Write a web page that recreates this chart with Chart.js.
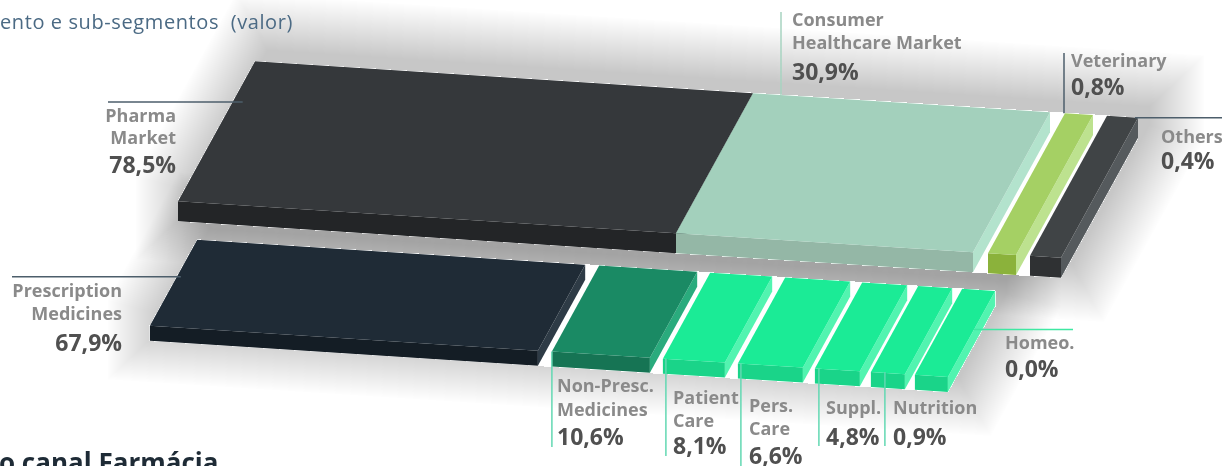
<!DOCTYPE html>
<html>
<head>
<meta charset="utf-8">
<script src="https://cdn.jsdelivr.net/npm/chart.js@4.4.0/dist/chart.umd.min.js"></script>
<style>
  html, body { margin: 0; padding: 0; background: #fff; overflow: hidden; }
  canvas { display: block; }
</style>
</head>
<body>
<canvas id="chart" width="1225" height="466"></canvas>
<script>
"use strict";

// Data
const rows = ["Mercado", "Sub-segmentos"];

const marketNames = [["Pharma", "Market"], ["Consumer", "Healthcare Market"], ["Veterinary"], ["Others"]];
const marketShare = [78.5, 30.9, 0.8, 0.4];
// drawn length of each slab along the top edge
const marketLength = [498, 297, 28, 31];

const segmentNames = [["Prescription", "Medicines"], ["Non-Presc.", "Medicines"], ["Patient", "Care"], ["Pers.", "Care"], ["Suppl."], ["Nutrition"], ["Homeo."]];
const segmentShare = [67.9, 10.6, 8.1, 6.6, 4.8, 0.9, 0.0];
const segmentLength = [388, 98, 62, 65, 45, 34, 33];

// Look
const SKEW_X = -0.55;   // left lean of the slab sides
const SKEW_Y = 0.064;   // downward slope of the long edges
const rowStart = [255, 294];
const rowDepth = [140, 86];
const rowThick = [20, 15];
const marketGap = [0, 0, 15, 14];
const segmentGap = [0, 14, 13, 13, 12, 11, 10];

const mint = { top: "#1beb96", front: "#1ad489", side: "#52f4b0" };
const marketFaces = [
  { top: "#35383b", front: "#232527", side: "#2b2e30" },
  { top: "#a3d0bc", front: "#94b7a6", side: "#b3e3cd" },
  { top: "#a5d064", front: "#8bb23b", side: "#bde28f" },
  { top: "#404446", front: "#2f3133", side: "#555a5d" },
];
const segmentFaces = [
  { top: "#1f2b36", front: "#141d25", side: "#2e3b46" },
  { top: "#1a8a64", front: "#167454", side: "#2aab7d" },
  mint, mint, mint, mint, mint,
];

const slate = "#4d5e6b";
const teal = "#62d8b2";
const marketLabels = [
  { align: "right", x: 176, base: [121.5, 143.5, 173], leader: { from: "left", depth: 0.29, inset: 10, to: { x: 108 }, color: slate } },
  { align: "left", x: 792, base: [25.5, 48.5, 80], leader: { from: "top", along: 28, to: { y: 12 }, color: "#a7d3c0" } },
  { align: "left", x: 1071, base: [66.5, 95], leader: { from: "topLeft", dx: -1, to: { y: 53 }, color: slate } },
  { align: "left", x: 1161, base: [142.5, 169], leader: { from: "topRight", dx: -3, to: { x: 1222 }, color: slate } },
];
const segmentLabels = [
  { align: "right", x: 122, base: [296.5, 319.5, 351], leader: { from: "left", depth: 0.43, inset: 4, to: { x: 12 }, color: slate } },
  { align: "left", x: 557, base: [391.5, 415.5, 445], leader: { from: "bottomLeft", dx: 0, to: { y: 447 }, color: teal } },
  { align: "left", x: 673, base: [403.5, 426.5, 454], leader: { from: "bottomLeft", dx: 3, to: { y: 456 }, color: teal } },
  { align: "left", x: 749, base: [411.5, 434.5, 464], leader: { from: "bottomLeft", dx: 3, to: { y: 466 }, color: teal } },
  { align: "left", x: 826, base: [413.5, 445], leader: { from: "bottomLeft", dx: 4, to: { y: 446 }, color: teal } },
  { align: "left", x: 893, base: [413.5, 445], leader: { from: "bottomLeft", dx: 14, to: { y: 446 }, color: teal } },
  { align: "left", x: 1005, base: [348.5, 377], leader: { from: "right", depth: 0.45, to: { x: 1073 }, color: "#3fe8a2" } },
];

const NAME_FONT = '700 18px "Open Sans"';
const VALUE_FONT = '700 23px "Open Sans"';

function fmtShare(v) {
  return v.toFixed(1).replace(".", ",") + "%";
}

function buildRow(rowIndex, lengths, gaps, names, shares, faces, labels) {
  let pos = rowStart[rowIndex];
  return lengths.map((len, i) => {
    pos += gaps[i];
    const range = [pos, pos + len];
    pos += len;
    return {
      label: names[i].join(" "),
      data: rows.map((_, r) => (r === rowIndex ? range : null)),
      share: shares[i],
      names: names[i],
      faces: faces[i],
      layout: labels[i],
      row: rowIndex,
      backgroundColor: "rgba(0,0,0,0)",
      borderWidth: 0,
      barThickness: rowDepth[rowIndex],
      grouped: false,
    };
  });
}

const datasets = [
  ...buildRow(0, marketLength, marketGap, marketNames, marketShare, marketFaces, marketLabels),
  ...buildRow(1, segmentLength, segmentGap, segmentNames, segmentShare, segmentFaces, segmentLabels),
];

let pivotY = 0;
function project(px, py) {
  return { x: px + SKEW_X * (py - pivotY), y: py + SKEW_Y * px };
}

function tracePoly(ctx, pts) {
  ctx.beginPath();
  ctx.moveTo(pts[0].x, pts[0].y);
  for (let i = 1; i < pts.length; i++) ctx.lineTo(pts[i].x, pts[i].y);
  ctx.closePath();
}

function poly(ctx, pts, color) {
  tracePoly(ctx, pts);
  ctx.fillStyle = color;
  ctx.fill();
}

// grow a convex polygon outward by d pixels
function dilate(pts, d) {
  const n = pts.length;
  const cx = pts.reduce((s, p) => s + p.x, 0) / n;
  const cy = pts.reduce((s, p) => s + p.y, 0) / n;
  const normals = pts.map((p, i) => {
    const q = pts[(i + 1) % n];
    const len = Math.hypot(q.x - p.x, q.y - p.y) || 1;
    let nx = (q.y - p.y) / len, ny = -(q.x - p.x) / len;
    const mx = (p.x + q.x) / 2 - cx, my = (p.y + q.y) / 2 - cy;
    if (nx * mx + ny * my < 0) { nx = -nx; ny = -ny; }
    return { x: nx, y: ny };
  });
  return pts.map((p, i) => {
    const a = normals[(i - 1 + n) % n], b = normals[i];
    const k = d / (1 + a.x * b.x + a.y * b.y);
    return { x: p.x + (a.x + b.x) * k, y: p.y + (a.y + b.y) * k };
  });
}

function slabGeom(el) {
  const p = el.getProps(["x", "y", "base", "height"], true);
  return {
    l: Math.min(p.x, p.base), r: Math.max(p.x, p.base),
    t: p.y - p.height / 2, b: p.y + p.height / 2,
  };
}

function corners(g, thick) {
  const TL = project(g.l, g.t), TR = project(g.r, g.t);
  const BR = project(g.r, g.b), BL = project(g.l, g.b);
  const d = (p) => ({ x: p.x, y: p.y + thick });
  return { TL, TR, BR, BL, dTR: d(TR), dBR: d(BR), dBL: d(BL) };
}

function anchorOf(g, leader) {
  switch (leader.from) {
    case "left": {
      const p = project(g.l, g.t + leader.depth * (g.b - g.t));
      return { x: p.x + leader.inset, y: p.y };
    }
    case "right": return project(g.r, g.t + leader.depth * (g.b - g.t));
    case "top": return project(g.l + leader.along, g.t);
    case "topLeft": { const p = project(g.l, g.t); return { x: p.x + leader.dx, y: p.y }; }
    case "topRight": { const p = project(g.r, g.t); return { x: p.x + leader.dx, y: p.y }; }
    default: { const p = project(g.l, g.b); return { x: p.x + leader.dx, y: p.y }; }
  }
}

const slabPlugin = {
  id: "slabs",
  afterDatasetsDraw(chart) {
    const ctx = chart.ctx;
    const metas = chart.data.datasets.map((ds, i) => ({ ds, el: chart.getDatasetMeta(i).data[ds.row] }));
    pivotY = slabGeom(metas[0].el).t;

    // outline of each row (first slab to last slab)
    const hulls = [0, 1].map((r) => {
      const mine = metas.filter((m) => m.ds.row === r);
      const a = corners(slabGeom(mine[0].el), rowThick[r]);
      const z = corners(slabGeom(mine[mine.length - 1].el), rowThick[r]);
      return [a.TL, z.TR, z.dTR, z.dBR, a.dBL, a.BL];
    });

    // soft shadow, kept outside the rows so the gaps stay white
    ctx.save();
    ctx.beginPath();
    ctx.rect(-10, -10, chart.width + 20, chart.height + 20);
    for (const h of hulls) {
      ctx.moveTo(h[0].x, h[0].y);
      for (let i = 1; i < h.length; i++) ctx.lineTo(h[i].x, h[i].y);
      ctx.closePath();
    }
    ctx.clip("evenodd");
    ctx.fillStyle = "rgba(0,0,0,0.006)";
    for (const h of hulls) {
      const moved = h.map((p) => ({ x: p.x + 12, y: p.y - 12 }));
      for (let d = 54; d >= 0; d -= 1) {
        tracePoly(ctx, dilate(moved, d));
        ctx.fill();
      }
    }
    ctx.restore();

    // faces
    for (const { ds, el } of metas) {
      const c = corners(slabGeom(el), rowThick[ds.row]);
      poly(ctx, [c.BL, c.BR, c.dBR, c.dBL], ds.faces.front);
      poly(ctx, [c.TR, c.BR, c.dBR, c.dTR], ds.faces.side);
      poly(ctx, [c.TL, c.TR, c.BR, c.BL], ds.faces.top);
    }

    // leaders and labels
    for (const { ds, el } of metas) {
      const lay = ds.layout;
      const a = anchorOf(slabGeom(el), lay.leader);
      ctx.save();
      ctx.strokeStyle = lay.leader.color;
      ctx.lineWidth = 1.5;
      ctx.beginPath();
      if (lay.leader.to.x !== undefined) {
        ctx.moveTo(lay.leader.to.x, a.y);
        ctx.lineTo(a.x, a.y);
      } else {
        ctx.moveTo(a.x, a.y);
        ctx.lineTo(a.x, lay.leader.to.y);
      }
      ctx.stroke();

      ctx.textAlign = lay.align;
      ctx.textBaseline = "alphabetic";
      ctx.font = NAME_FONT;
      ctx.fillStyle = "#8a8a8a";
      ds.names.forEach((line, k) => ctx.fillText(line, lay.x, lay.base[k]));
      ctx.font = VALUE_FONT;
      ctx.fillStyle = "#505050";
      ctx.fillText(fmtShare(ds.share), lay.x, lay.base[ds.names.length]);
      ctx.restore();
    }

    // page texts around the graphic
    ctx.save();
    ctx.textAlign = "left";
    ctx.font = '400 20px "Open Sans"';
    ctx.letterSpacing = "0.6px";
    ctx.fillStyle = "#4b6a84";
    ctx.fillText("ento e sub-segmentos  (valor)", 0, 29);
    ctx.letterSpacing = "0px";
    ctx.font = '700 26px "Open Sans"';
    ctx.fillStyle = "#1e2b36";
    ctx.fillText("o canal Farmácia", -1, 472);
    ctx.restore();
  },
};

new Chart(document.getElementById("chart"), {
  type: "bar",
  data: { labels: rows, datasets },
  options: {
    indexAxis: "y",
    responsive: false,
    animation: false,
    layout: { padding: { top: 40.5, bottom: 127.5, left: 0, right: 0 } },
    scales: {
      x: { type: "linear", min: 0, max: 1225, display: false },
      y: { type: "category", display: false },
    },
    plugins: { legend: { display: false }, tooltip: { enabled: false } },
  },
  plugins: [slabPlugin],
});
</script>
</body>
</html>
